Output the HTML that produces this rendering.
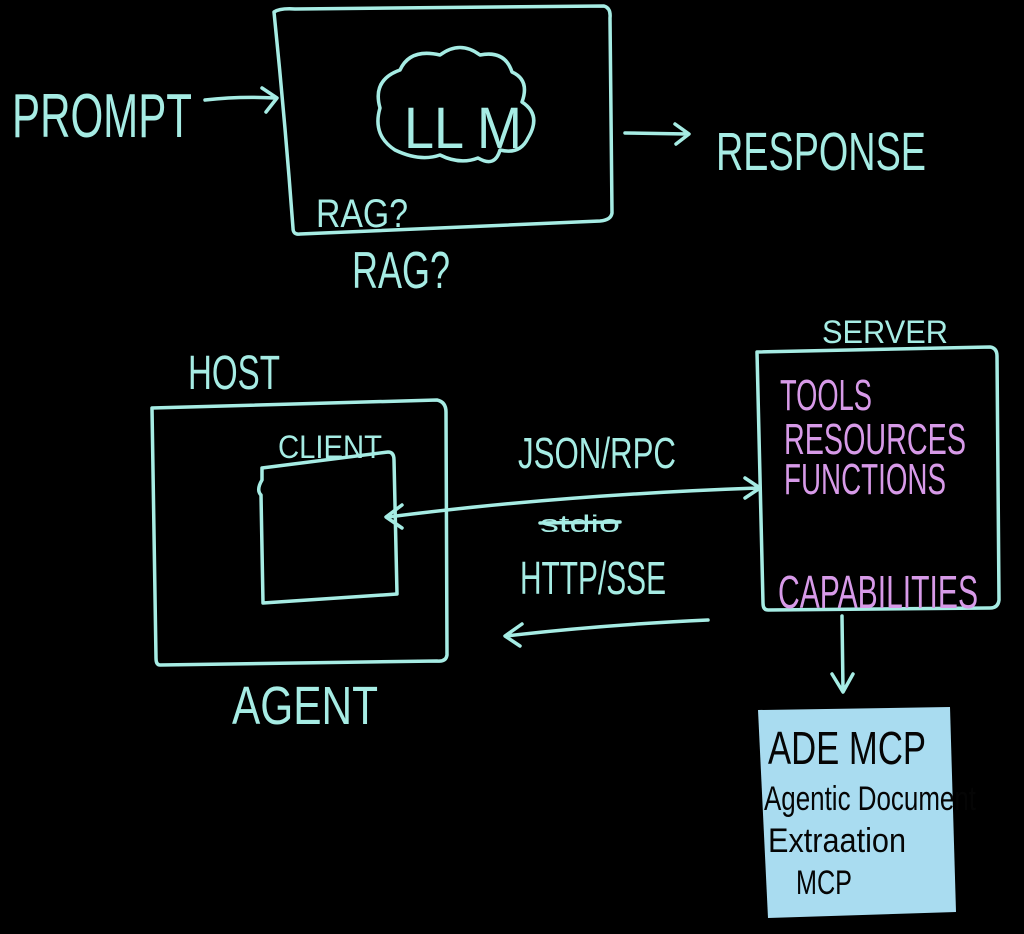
<!DOCTYPE html>
<html><head><meta charset="utf-8"><style>
html,body{margin:0;padding:0;background:#000;width:1024px;height:934px;overflow:hidden}
svg{display:block}
text{font-family:"Liberation Sans",sans-serif}
.c{fill:#a6ece4}
.m{fill:#d79ae8}
.s{stroke:#a6ece4;stroke-width:3.5;fill:none;stroke-linecap:round;stroke-linejoin:round}
</style></head><body>
<svg width="1024" height="934" viewBox="0 0 1024 934">
<rect width="1024" height="934" fill="#000"/>
<path class="s" d="M274 12 Q280 8 295 9 L604 6 Q611 8 610 18 L612 213 Q611 220 600 221 L300 234 Q293 235 293 228 Q285 120 274 12 Z"/>
<path class="s" d="M395 150 Q372 135 380 108 Q372 80 400 70 Q410 48 440 55 Q460 40 480 55 Q505 50 512 72 Q530 80 522 102 Q542 115 528 138 Q520 155 500 150 Q495 168 478 158 Q460 165 440 155 Q420 162 395 150 Z"/>
<text class="c" x="404" y="148" font-size="58" textLength="118" lengthAdjust="spacingAndGlyphs">LL M</text>
<text class="c" x="12" y="137" font-size="62" textLength="180" lengthAdjust="spacingAndGlyphs">PROMPT</text>
<path class="s" d="M205 100 Q240 96 275 98 M262 88 L277 98 L266 112"/>
<path class="s" d="M625 133 L688 134 M675 124 L689 134 L676 144"/>
<text class="c" x="716" y="170" font-size="54" textLength="210" lengthAdjust="spacingAndGlyphs">RESPONSE</text>
<text class="c" x="316" y="227" font-size="40" textLength="92" lengthAdjust="spacingAndGlyphs">RAG?</text>
<text class="c" x="352" y="288" font-size="52" textLength="98" lengthAdjust="spacingAndGlyphs">RAG?</text>
<text class="c" x="188" y="389" font-size="48" textLength="92" lengthAdjust="spacingAndGlyphs">HOST</text>
<path class="s" d="M152 408 L437 400 Q446 402 446 412 L447 655 Q446 662 437 661 L160 665 Q156 665 156 658 Z"/>
<text class="c" x="278" y="458" font-size="32" textLength="104" lengthAdjust="spacingAndGlyphs">CLIENT</text>
<path class="s" d="M262 468 L388 452 Q394 452 394 460 L397 594 L263 603 L261 495 Q256 490 262 480 Z"/>
<text class="c" x="232" y="724" font-size="54" textLength="146" lengthAdjust="spacingAndGlyphs">AGENT</text>
<text class="c" x="518" y="468" font-size="44" textLength="158" lengthAdjust="spacingAndGlyphs">JSON/RPC</text>
<path class="s" d="M388 517 Q560 495 758 488 M745 478 L760 488 L745 498 M402 505 L386 517 L402 528"/>
<text class="c" x="540" y="532" font-size="24" textLength="80" lengthAdjust="spacingAndGlyphs">stdio</text>
<path class="s" d="M540 523 L620 522"/>
<text class="c" x="520" y="594" font-size="46" textLength="146" lengthAdjust="spacingAndGlyphs">HTTP/SSE</text>
<path class="s" d="M708 620 Q600 625 506 636 M522 624 L505 636 L520 646"/>
<text class="c" x="822" y="343" font-size="32" textLength="126" lengthAdjust="spacingAndGlyphs">SERVER</text>
<path class="s" d="M757 352 L990 347 Q997 348 997 356 L999 600 Q998 608 990 608 L768 610 Q763 610 763 603 Z"/>
<text class="m" x="780" y="410" font-size="44" textLength="92" lengthAdjust="spacingAndGlyphs">TOOLS</text>
<text class="m" x="784" y="454" font-size="44" textLength="182" lengthAdjust="spacingAndGlyphs">RESOURCES</text>
<text class="m" x="784" y="494" font-size="44" textLength="162" lengthAdjust="spacingAndGlyphs">FUNCTIONS</text>
<text class="m" x="778" y="608" font-size="46" textLength="200" lengthAdjust="spacingAndGlyphs">CAPABILITIES</text>
<path class="s" d="M842 616 L843 690 M832 674 L843 692 L853 674"/>
<path d="M758 710 L950 707 L956 912 L768 918 Z" fill="#a9dcf0"/>
<g fill="#050505">
<text x="768" y="764" font-size="46" textLength="158" lengthAdjust="spacingAndGlyphs">ADE MCP</text>
<text x="764" y="810" font-size="34" textLength="212" lengthAdjust="spacingAndGlyphs">Agentic Document</text>
<text x="768" y="852" font-size="34" textLength="138" lengthAdjust="spacingAndGlyphs">Extraation</text>
<text x="796" y="894" font-size="34" textLength="56" lengthAdjust="spacingAndGlyphs">MCP</text>
</g>
</svg>
</body></html>
